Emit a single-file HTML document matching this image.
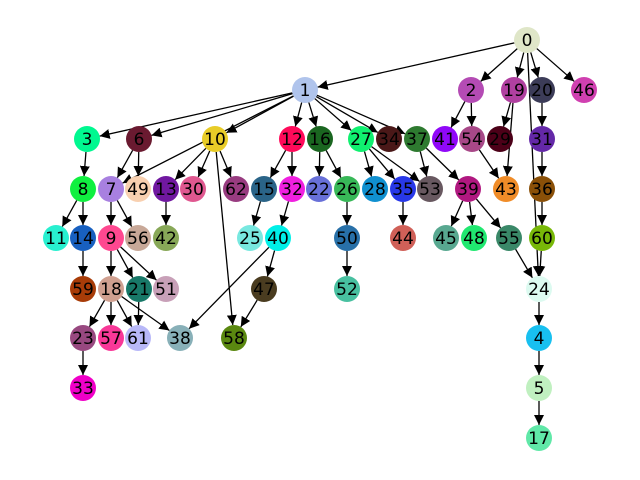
<!DOCTYPE html>
<html><head><meta charset="utf-8"><style>
html,body{margin:0;padding:0;background:#fff;}
svg{display:block;}
text{font-family:"DejaVu Sans","Liberation Sans",sans-serif;font-size:17px;}
</style></head><body>
<svg id="g" width="640" height="480" viewBox="0 0 640 480">
<defs><marker id="ah" viewBox="0 0 10 10" refX="10" refY="5" markerWidth="10" markerHeight="10" markerUnits="userSpaceOnUse" orient="auto"><path d="M0,0 L10,5 L0,10 z" fill="#000"/></marker></defs>
<g id="edges"></g>
<g id="nodes"></g>
</svg>
<script>
const nodeIds=[0,1,2,19,20,46,3,6,10,12,16,27,34,37,41,54,29,31,8,7,49,13,30,62,15,32,22,26,28,35,53,39,43,36,11,14,9,56,42,25,40,50,44,45,48,55,60,59,18,21,51,47,52,24,23,57,61,38,58,4,33,5,17];
const nodeX=[527,305,471,514,542,584,87,139,215,292,320,361,389,417,445,472,500,542,83,111,138,166,193,236,264,292,319,347,375,403,430,468,506,542,56,83,111,138,166,250,278,347,403,446,474,509,542,83,111,139,166,264,347,539,83,111,138,180,234,539,83,539,539];
const nodeY=[40,90,90,90,90,90,139,139,139,139,139,139,139,139,139,139,139,139,189,189,189,189,189,189,189,189,189,189,189,189,189,189,189,189,238,238,238,238,238,238,238,238,238,238,238,238,238,289,289,289,289,289,289,289,338,338,338,338,338,338,388,388,438];
const nodeColors=["#dfe6c8","#b0c4ec","#b44bb4","#b040a0","#3c3c58","#d040b0","#00f890","#6a1a30","#e8cc28","#ff0a5a","#1a6620","#10f070","#4a1818","#2e7a30","#9008f8","#a84888","#4c0018","#6428a8","#10f040","#a880e0","#f8d0b0","#7018a0","#e05890","#983c80","#2a6488","#f020e0","#6870d8","#38b858","#1090d0","#2838e8","#685860","#b01880","#f08c28","#8a5008","#28f0d0","#1860c0","#ff4890","#c8a898","#88a858","#78e8e0","#00f0e8","#2870a8","#d06058","#58a890","#20e870","#3a8868","#78b808","#a83c08","#d0a090","#187868","#c8a0b8","#4a3c20","#48c0a0","#dcfaf0","#984880","#f83898","#b8b8f8","#88b0b8","#5a8810","#18c0f0","#f000c8","#c0f0c0","#60e8a8"];
const edgeFrom=[0,0,0,0,0,0,1,1,1,1,1,1,1,1,1,2,2,19,19,20,31,36,60,55,24,4,5,54,37,37,27,27,27,16,16,26,50,35,39,39,39,12,12,15,32,40,40,47,10,10,10,10,6,6,3,8,8,7,7,13,14,9,9,9,18,18,18,18,21,23];
const edgeTo=[1,2,19,20,46,24,3,6,10,7,12,16,27,34,37,41,54,29,43,31,36,60,24,24,4,5,17,43,53,39,28,35,53,22,26,50,52,44,45,48,55,15,32,25,40,38,47,58,13,30,62,58,7,49,8,11,14,9,56,42,59,18,21,51,23,57,61,38,61,33];
const R=13;
const NS="http://www.w3.org/2000/svg";
const idx=id=>nodeIds.indexOf(id);
const eg=document.getElementById('edges'),ng=document.getElementById('nodes');
for(let i=0;i<edgeFrom.length;i++){
  const a=idx(edgeFrom[i]),b=idx(edgeTo[i]);
  const x1=nodeX[a],y1=nodeY[a],x2=nodeX[b],y2=nodeY[b];
  const d=Math.hypot(x2-x1,y2-y1),ux=(x2-x1)/d,uy=(y2-y1)/d;
  const l=document.createElementNS(NS,'line');
  l.setAttribute('x1',x1+ux*R);l.setAttribute('y1',y1+uy*R);
  l.setAttribute('x2',x2-ux*R);l.setAttribute('y2',y2-uy*R);
  l.setAttribute('stroke','#000');l.setAttribute('stroke-width','1.3');
  l.setAttribute('marker-end','url(#ah)');
  
  
  eg.appendChild(l);
}
for(let i=0;i<nodeIds.length;i++){
  const g=document.createElementNS(NS,'g');
  
  
  const c=document.createElementNS(NS,'circle');
  c.setAttribute('cx',nodeX[i]);c.setAttribute('cy',nodeY[i]);c.setAttribute('r',R);
  c.setAttribute('fill',nodeColors[i]);
  const t=document.createElementNS(NS,'text');
  t.setAttribute('x',nodeX[i]);t.setAttribute('y',nodeY[i]+6);
  t.setAttribute('text-anchor','middle');
  t.textContent=nodeIds[i];
  g.appendChild(c);g.appendChild(t);ng.appendChild(g);
}
</script>
</body></html>
